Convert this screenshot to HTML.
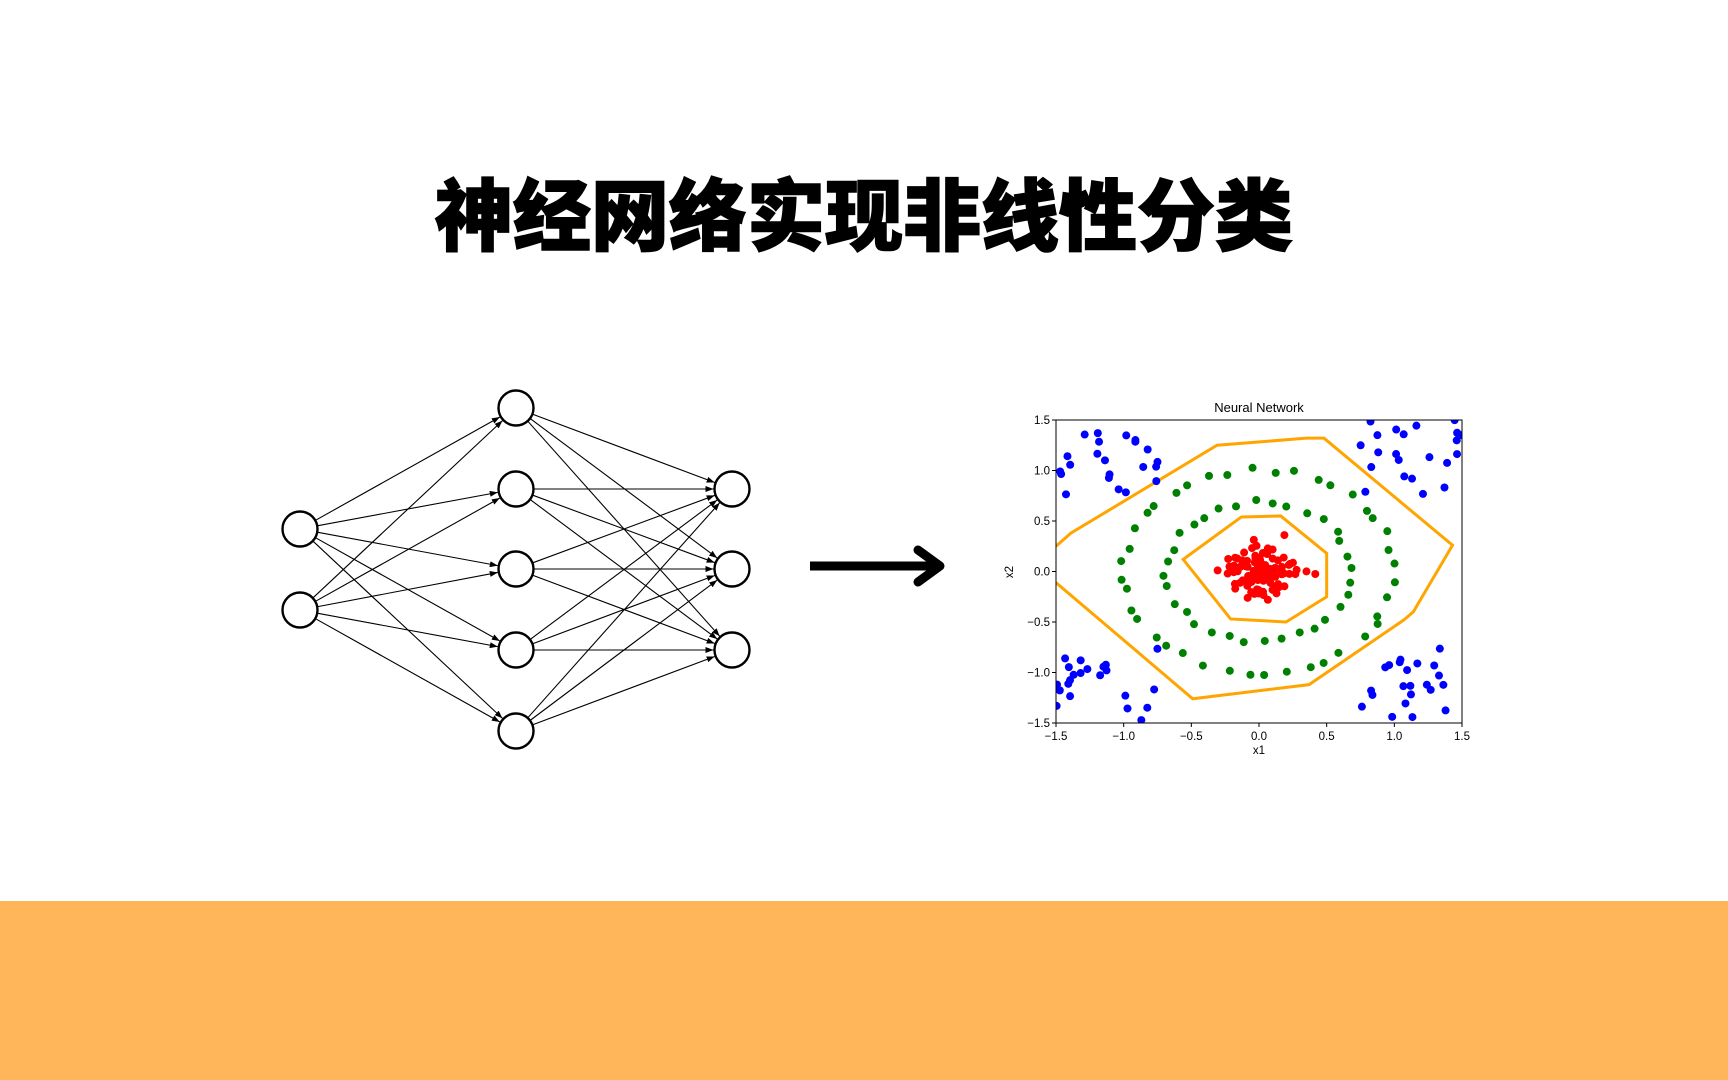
<!DOCTYPE html>
<html><head><meta charset="utf-8"><style>
html,body{margin:0;padding:0;background:#fff;width:1728px;height:1080px;overflow:hidden;position:relative;font-family:"Liberation Sans",sans-serif}
#title{position:absolute;left:0;width:1728px;top:167px;text-align:center;font-family:"Liberation Sans","Noto Sans CJK SC",sans-serif;font-weight:900;font-size:78px;color:#000;letter-spacing:0px;line-height:100px;-webkit-text-stroke:1.5px #000}
#bar{position:absolute;left:0;top:901px;width:1728px;height:179px;background:#FFB55A}
svg{position:absolute;left:0;top:0}
</style></head><body>
<div id="title">神经网络实现非线性分类</div>
<div id="bar"></div>
<svg id="s" width="1728" height="1080" xmlns="http://www.w3.org/2000/svg">
<defs><marker id="ah" markerWidth="8" markerHeight="6" refX="8" refY="3" orient="auto" markerUnits="userSpaceOnUse"><path d="M0,0 L8,3 L0,6 z" fill="#000"/></marker></defs>
<g id="nn"></g>
<line x1="810" y1="566" x2="936" y2="566" stroke="#000" stroke-width="9"/>
<polyline points="918,550 940,566 918,582" fill="none" stroke="#000" stroke-width="9" stroke-linecap="round" stroke-linejoin="round"/>
<g id="plot"></g>
</svg>
<script>
var NS="http://www.w3.org/2000/svg";
function el(p,t,a,txt){var e=document.createElementNS(NS,t);for(var k in a)e.setAttribute(k,a[k]);if(txt!=null)e.textContent=txt;p.appendChild(e);return e;}
var nn=document.getElementById('nn'),R=17.5;
var L=[[[300,529],[300,610]],[[516,408],[516,489],[516,569],[516,650],[516,731]],[[732,489],[732,569],[732,650]]];
for(var l=0;l<2;l++)for(var i=0;i<L[l].length;i++)for(var j=0;j<L[l+1].length;j++){
var a=L[l][i],b=L[l+1][j],dx=b[0]-a[0],dy=b[1]-a[1],d=Math.hypot(dx,dy);
el(nn,'line',{x1:a[0]+dx/d*R,y1:a[1]+dy/d*R,x2:b[0]-dx/d*(R+1),y2:b[1]-dy/d*(R+1),stroke:'#000','stroke-width':1.1,'marker-end':'url(#ah)'});}
L.forEach(function(ly){ly.forEach(function(c){el(nn,'circle',{cx:c[0],cy:c[1],r:R,fill:'#fff',stroke:'#000','stroke-width':2.4});});});
var g=document.getElementById('plot');
var X0=1056,X1=1462,Y0=420,Y1=723;
function px(x){return X0+(x+1.5)/3*(X1-X0);} function py(y){return Y0+(1.5-y)/3*(Y1-Y0);}
var seed=11;function rnd(){seed=(seed*16807)%2147483647;return seed/2147483647;}
function gauss(){return Math.sqrt(-2*Math.log(rnd()+1e-9))*Math.cos(2*Math.PI*rnd());}
var clip=el(g,'clipPath',{id:'cp'});el(clip,'rect',{x:X0,y:Y0,width:X1-X0,height:Y1-Y0});
var pg=el(g,'g',{'clip-path':'url(#cp)'});
function pl(pts,closed){var s=pts.map(function(p){return px(p[0])+','+py(p[1]);}).join(' ');el(pg,closed?'polygon':'polyline',{points:s,fill:'none',stroke:'#FFA500','stroke-width':3});}
pl([[-1.5,0.25],[-1.39,0.38],[-0.31,1.25],[0.35,1.32],[0.48,1.32],[1.43,0.26],[1.14,-0.4],[1.07,-0.48],[0.37,-1.12],[-0.49,-1.26],[-1.5,-0.11]],false);
pl([[-0.56,0.12],[-0.13,0.54],[0.16,0.55],[0.5,0.18],[0.5,-0.25],[0.2,-0.5],[-0.21,-0.47]],true);
function dot(x,y,c){el(pg,'circle',{cx:px(x),cy:py(y),r:4,fill:c});}
[[-1,1],[1,1],[-1,-1],[1,-1]].forEach(function(s){for(var i=0;i<22;i++){dot(s[0]*(0.75+rnd()*0.75),s[1]*(0.75+rnd()*0.75),'#0000ff');}});
for(var i=0;i<40;i++){var t=i/40*6.283+rnd()*0.1,r=0.98+rnd()*0.05;dot(r*Math.cos(t),r*Math.sin(t),'#008000');}
for(var i=0;i<32;i++){var t=i/32*6.283+rnd()*0.1,r=0.66+rnd()*0.05;dot(r*Math.cos(t),r*Math.sin(t),'#008000');}
for(var i=0;i<100;i++){dot(0.03+gauss()*0.15,0.0+gauss()*0.14,'#ff0000');}
el(g,'rect',{x:X0,y:Y0,width:X1-X0,height:Y1-Y0,fill:'none',stroke:'#000','stroke-width':1});
var labs=['\u22121.5','\u22121.0','\u22120.5','0.0','0.5','1.0','1.5'];
for(var k=0;k<7;k++){var v=-1.5+k*0.5;
el(g,'line',{x1:px(v),y1:Y1,x2:px(v),y2:Y1+4,stroke:'#000'});
el(g,'text',{x:px(v),y:Y1+17,'font-size':11.5,'text-anchor':'middle','font-family':'Liberation Sans, sans-serif'},labs[k]);
el(g,'line',{x1:X0-4,y1:py(v),x2:X0,y2:py(v),stroke:'#000'});
el(g,'text',{x:X0-6,y:py(v)+4,'font-size':11.5,'text-anchor':'end','font-family':'Liberation Sans, sans-serif'},labs[k]);}
el(g,'text',{x:(X0+X1)/2,y:Y1+31,'font-size':11.5,'text-anchor':'middle','font-family':'Liberation Sans, sans-serif'},'x1');
el(g,'text',{x:1013,y:572,'font-size':11.5,'text-anchor':'middle','font-family':'Liberation Sans, sans-serif',transform:'rotate(-90 1013 572)'},'x2');
el(g,'text',{x:(X0+X1)/2,y:412,'font-size':13,'text-anchor':'middle','font-family':'Liberation Sans, sans-serif'},'Neural Network');
</script>
</body></html>
